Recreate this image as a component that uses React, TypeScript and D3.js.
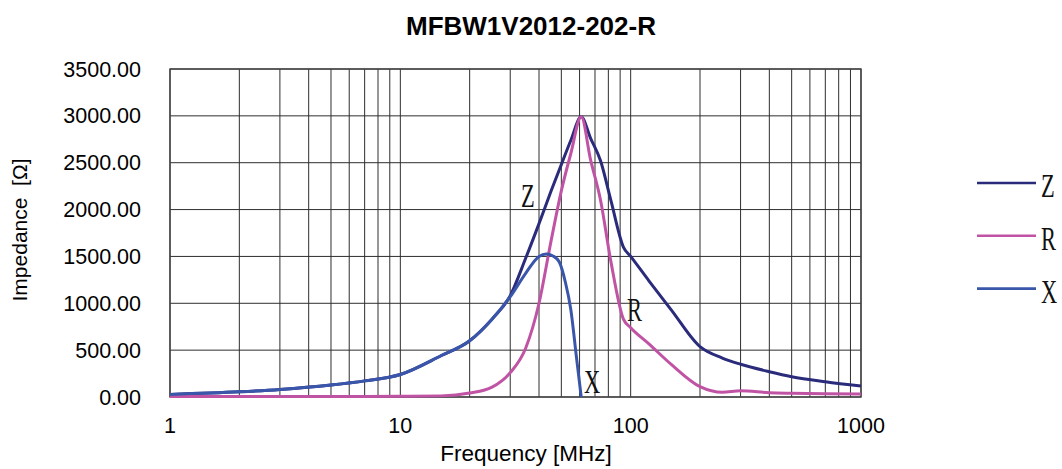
import React from "react";
import * as d3 from "d3";

// Frequency points [MHz] shared by Z and R
const freqs = [1, 2, 3, 5, 7, 10, 15, 20, 25, 30, 35, 40, 45, 50, 55, 61, 67, 74, 82, 93, 100, 120, 150, 200, 250, 300, 400, 500, 700, 1000];
const zValues = [28, 55, 80, 128, 172, 240, 440, 600, 830, 1080, 1480, 1850, 2190, 2480, 2740, 2990, 2760, 2520, 2100, 1600, 1500, 1240, 930, 537, 416, 350, 270, 217, 163, 117];
const rValues = [5, 5, 5, 5, 6, 8, 12, 42, 105, 260, 520, 1000, 1650, 2200, 2600, 2990, 2530, 2100, 1450, 830, 740, 567, 348, 110, 50, 67, 46, 40, 35, 32];

// X stops where it crosses zero
const freqsX = [1, 2, 3, 5, 7, 10, 15, 20, 25, 30, 35, 40, 43, 46, 49, 52, 55, 58, 61];
const xValues = [28, 55, 80, 128, 172, 240, 440, 600, 830, 1070, 1320, 1500, 1526, 1505, 1440, 1230, 930, 450, 0];

const xTicks = [1, 10, 100, 1000];
const yTicks = [0, 500, 1000, 1500, 2000, 2500, 3000, 3500];

const series = [
  { name: "Z", color: "#2b2b7c", f: freqs, v: zValues },
  { name: "R", color: "#c153a5", f: freqs, v: rValues },
  { name: "X", color: "#3a56aa", f: freqsX, v: xValues },
];

const W = 1062;
const H = 469;
const margin = { left: 170, right: 201, top: 69, bottom: 72 };

export default function App() {
  const x = d3.scaleLog().domain([1, 1000]).range([margin.left, W - margin.right]);
  const y = d3.scaleLinear().domain([0, 3500]).range([H - margin.bottom, margin.top]);

  const minor: number[] = [];
  for (let dec = 1; dec < 1000; dec *= 10) {
    for (let k = 1; k <= 9; k++) minor.push(dec * k);
  }
  minor.push(1000);

  const line = d3
    .line<[number, number]>()
    .x((d) => x(d[0]))
    .y((d) => y(d[1]))
    .curve(d3.curveMonotoneX);

  const sans = "'Liberation Sans', Arial, sans-serif";
  const serif = "'Liberation Serif', 'DejaVu Serif', serif";

  const serifLabel = (txt: string, px: number, py: number, key?: string) => (
    <text
      key={key}
      transform={`translate(${px},${py}) scale(0.66,1)`}
      fontFamily={serif}
      fontSize={34}
      fill="#111"
    >
      {txt}
    </text>
  );

  return (
    <div style={{ position: "fixed", left: 0, top: 0, background: "#fff" }}>
      <svg width={W} height={H} style={{ display: "block" }}>
        <rect width={W} height={H} fill="#fff" />
        <text x={531} y={35} textAnchor="middle" fontFamily={sans} fontWeight="bold" fontSize={26} fill="#000">
          MFBW1V2012-202-R
        </text>

        {/* grid */}
        {minor.map((f) => (
          <line key={"v" + f} x1={x(f)} x2={x(f)} y1={y(3500)} y2={y(0)} stroke="#2e2e2e" strokeWidth={1} />
        ))}
        {yTicks.map((t) => (
          <line key={"h" + t} x1={x(1)} x2={x(1000)} y1={y(t)} y2={y(t)} stroke="#2e2e2e" strokeWidth={1} />
        ))}
        <rect
          x={x(1)}
          y={y(3500)}
          width={x(1000) - x(1)}
          height={y(0) - y(3500)}
          fill="none"
          stroke="#444"
          strokeWidth={1.4}
        />

        {/* y ticks */}
        {yTicks.map((t) => (
          <text key={"yt" + t} x={141} y={y(t) + 7.5} textAnchor="end" fontFamily={sans} fontSize={21.5} fill="#000">
            {t.toFixed(2)}
          </text>
        ))}
        {/* x ticks */}
        {xTicks.map((t) => (
          <text key={"xt" + t} x={x(t)} y={432.5} textAnchor="middle" fontFamily={sans} fontSize={21.5} fill="#000">
            {t}
          </text>
        ))}

        <text x={526} y={461} textAnchor="middle" fontFamily={sans} fontSize={22.5} fill="#000">
          Frequency [MHz]
        </text>
        <text
          transform="translate(27,230) rotate(-90)"
          textAnchor="middle"
          fontFamily={sans}
          fontSize={21}
          fill="#000"
          style={{ whiteSpace: "pre" }}
        >
          {"Impedance  [Ω]"}
        </text>

        {/* curves */}
        {series.map((s) => (
          <path
            key={s.name}
            d={line(s.f.map((f, i) => [f, s.v[i]] as [number, number])) || ""}
            fill="none"
            stroke={s.color}
            strokeWidth={3}
            strokeLinejoin="round"
          />
        ))}

        {/* in-plot labels */}
        {serifLabel("Z", 521, 207)}
        {serifLabel("R", 627, 321)}
        {serifLabel("X", 584, 393)}

        {/* legend */}
        {series.map((s, i) => {
          const ly = 183 + i * 52.8;
          return (
            <g key={"lg" + s.name}>
              <line x1={977} x2={1036} y1={ly} y2={ly} stroke={s.color} strokeWidth={2.6} />
              {serifLabel(s.name, 1041, ly + 14)}
            </g>
          );
        })}
      </svg>
    </div>
  );
}
